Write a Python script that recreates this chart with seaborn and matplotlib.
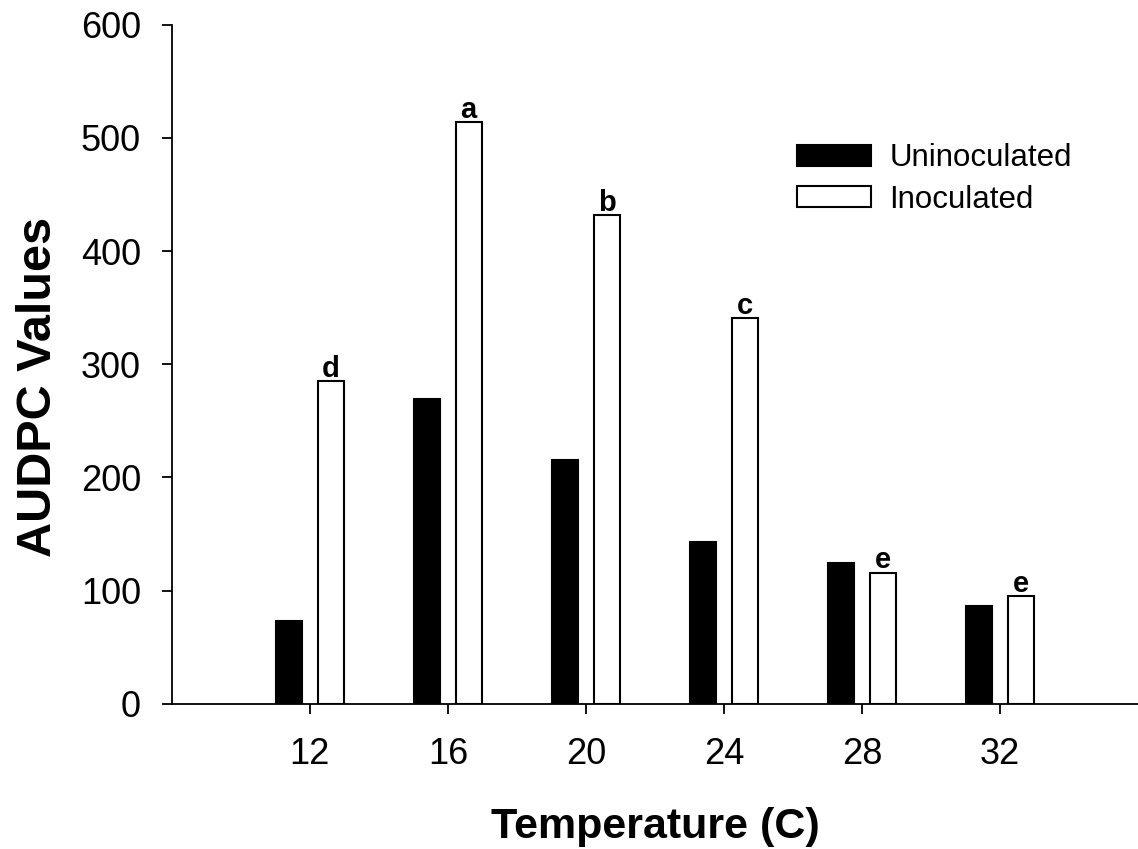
import matplotlib
matplotlib.use("Agg")
import matplotlib.pyplot as plt
import seaborn as sns
import pandas as pd

temps = ["12", "16", "20", "24", "28", "32"]
uninoculated = [73, 269, 215, 143, 124, 86]
inoculated = [285, 514, 432, 341, 116, 95]
letters = ["d", "a", "b", "c", "e", "e"]

df = pd.DataFrame({
    "temp": temps * 2,
    "audpc": uninoculated + inoculated,
    "group": ["Uninoculated"] * len(temps) + ["Inoculated"] * len(temps),
})

sns.set_theme(style="white")
plt.rcParams["font.family"] = ["Liberation Sans", "DejaVu Sans"]
plt.rcParams["text.color"] = "black"
plt.rcParams["axes.labelcolor"] = "black"

fig = plt.figure(figsize=(11.38, 8.49), dpi=100)
ax = fig.add_axes([0.151, 0.171, 0.849, 0.8])

sns.barplot(data=df, x="temp", y="audpc", hue="group", order=temps,
            hue_order=["Uninoculated", "Inoculated"],
            palette={"Uninoculated": "black", "Inoculated": "white"},
            edgecolor="black", linewidth=1.5, width=0.6, gap=0.375,
            saturation=1, ax=ax)

# significance letters above the inoculated bars
for bar, lab in zip(ax.containers[1], letters):
    ax.annotate(lab, (bar.get_x() + bar.get_width() / 2, bar.get_height()),
                xytext=(0, 3), textcoords="offset points",
                ha="center", va="baseline", fontsize=21, fontweight="bold")

ax.set_xlim(-1, 6)
ax.set_ylim(0, 600)
ax.set_yticks([0, 100, 200, 300, 400, 500, 600])
sns.despine(ax=ax)
for s in ["left", "bottom"]:
    ax.spines[s].set_color("black")
    ax.spines[s].set_linewidth(1.3)
ax.tick_params(axis="both", direction="out", length=7.2, width=1.3, color="black",
               labelsize=26, labelcolor="black", bottom=True, left=True)
ax.tick_params(axis="x", pad=17)
ax.tick_params(axis="y", pad=15)

ax.set_xlabel("Temperature (C)", fontsize=31, fontweight="bold")
ax.set_ylabel("AUDPC Values", fontsize=35, fontweight="bold")
ax.xaxis.set_label_coords(0.5, -0.152)
ax.yaxis.set_label_coords(-0.115, 0.467)

handles, labels = ax.get_legend_handles_labels()
ax.legend(handles, labels, loc="upper left", bbox_to_anchor=(0.647, 0.825),
          frameon=False, fontsize=22.5, handlelength=2.37, handleheight=0.67,
          labelspacing=0.36, handletextpad=0.58, borderpad=0, borderaxespad=0)

fig.savefig("out.png", dpi=100)
